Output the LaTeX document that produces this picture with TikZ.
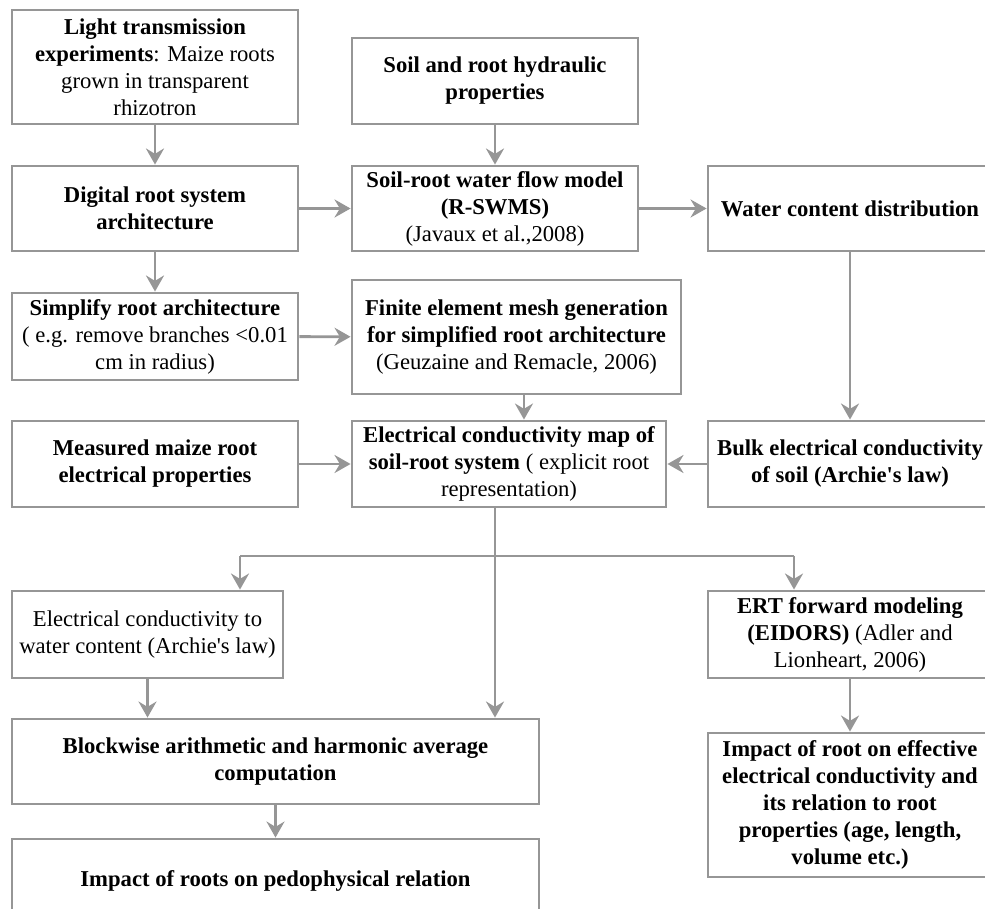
\documentclass[tikz,border=0pt]{standalone}
\usepackage{fontspec}
\setmainfont{Liberation Serif}[Ligatures=TeXOff]
\usetikzlibrary{arrows.meta,calc}
\definecolor{lg}{RGB}{150,150,150}
\begin{document}
\begin{tikzpicture}[x=0.75pt,y=-0.75pt,
  box/.style={draw=lg, line width=2.2pt, inner sep=0pt, align=center,
    font=\fontsize{17}{20.25}\selectfont, text=black},
  arr/.style={draw=lg, line width=2.2pt, -{Stealth[length=12pt,width=13.5pt,inset=4pt]}},
  ln/.style={draw=lg, line width=2.2pt}]
\useasboundingbox (0,0) rectangle (985,909);
\fill[white] (0,0) rectangle (985,909);
\clip (0,0) rectangle (985,909);
% left column
\node[box, minimum width=214.5pt, minimum height=85.5pt] (light) at (155,67)
  {\textbf{Light transmission}\\\textbf{experiments}: Maize roots\\grown in transparent\\rhizotron};
\node[box, minimum width=214.5pt, minimum height=63.75pt] (digital) at (155,208.5)
  {\textbf{Digital root system}\\\textbf{architecture}};
\node[box, minimum width=214.5pt, minimum height=65.25pt] (simplify) at (155,336.5)
  {\textbf{Simplify root architecture}\\( e.g. remove branches <0.01\\cm in radius)};
\node[box, minimum width=214.5pt, minimum height=64.5pt] (measured) at (155,464)
  {\textbf{Measured maize root}\\\textbf{electrical properties}};
\node[box, minimum width=203.25pt, minimum height=65.25pt] (ectow) at (147.5,634.5)
  {Electrical conductivity to\\water content (Archie's law)};
\node[box, minimum width=395.25pt, minimum height=63.75pt] (block) at (275.5,761.5)
  {\textbf{Blockwise arithmetic and harmonic average}\\\textbf{computation}};
\node[box, minimum width=395.25pt, minimum height=63pt] (pedo) at (275.5,881)
  {\textbf{Impact of roots on pedophysical relation}};
% middle column
\node[box, minimum width=214.5pt, minimum height=64.5pt] (hydr) at (495,81)
  {\textbf{Soil and root hydraulic}\\\textbf{properties}};
\node[box, minimum width=214.5pt, minimum height=63.75pt] (swms) at (495,208.5)
  {\textbf{Soil-root water flow model}\\\textbf{(R-SWMS)}\\(Javaux et al.,2008)};
\node[box, minimum width=246.75pt, minimum height=85.5pt] (finite) at (516.5,337)
  {\textbf{Finite element mesh generation}\\\textbf{for simplified root architecture}\\(Geuzaine and Remacle, 2006)};
\node[box, minimum width=235.5pt, minimum height=64.5pt] (ecmap) at (509,464)
  {\textbf{Electrical conductivity map of}\\\textbf{soil-root system} ( explicit root\\representation)};
% right column
\node[box, minimum width=213pt, minimum height=63.75pt] (water) at (850,208.5)
  {\textbf{Water content distribution}};
\node[box, minimum width=213pt, minimum height=64.5pt] (bulk) at (850,464)
  {\textbf{Bulk electrical conductivity}\\\textbf{of soil (Archie's law)}};
\node[box, minimum width=213pt, minimum height=65.25pt] (ert) at (850,634.5)
  {\textbf{ERT forward modeling}\\\textbf{(EIDORS)} (Adler and\\Lionheart, 2006)};
\node[box, minimum width=213pt, minimum height=108pt] (impact) at (850,805)
  {\textbf{Impact of root on effective}\\\textbf{electrical conductivity and}\\\textbf{its relation to root}\\\textbf{properties (age, length,}\\\textbf{volume etc.)}};
% connectors
\draw[arr] (light) -- (digital);
\draw[arr] (digital) -- (simplify);
\draw[arr] (digital) -- (swms);
\draw[arr] (hydr) -- (swms);
\draw[arr] (swms) -- (water);
\draw[arr] (water) -- (bulk);
\draw[arr] (simplify) -- (finite);
\draw[arr] ([xshift=5.6pt]finite.south) -- ([xshift=5.6pt]finite.south |- ecmap.north);
\draw[arr] (measured) -- (ecmap);
\draw[arr] (bulk) -- (ecmap);
\draw[arr] ([xshift=-10.5pt]ecmap.south) -- ([xshift=-10.5pt]ecmap.south |- block.north);
\coordinate (jl) at (240,556);
\coordinate (jr) at (794,556);
\draw[ln] (jl) -- (jr);
\draw[arr] (jl) -- (jl |- ectow.north);
\draw[arr] (jr) -- (jr |- ert.north);
\draw[arr] (ectow.south) -- (ectow.south |- block.north);
\draw[arr] (block) -- (pedo);
\draw[arr] (ert) -- (impact);
\end{tikzpicture}
\end{document}
